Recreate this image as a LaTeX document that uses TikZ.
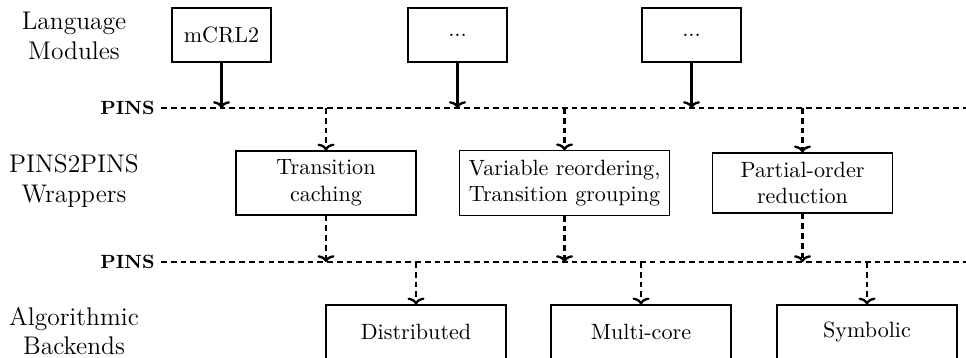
\documentclass[tikz,border=0pt]{standalone}
\usetikzlibrary{arrows.meta}
\begin{document}
\begin{tikzpicture}[x=0.4706pt,y=-0.4706pt,
  boxfont/.style={font=\fontsize{10.4}{12.5}\selectfont},
  topbox/.style={draw,boxfont,line width=0.6pt,minimum width=46.6pt,minimum height=25.4pt,inner sep=4.2pt},
  midbox/.style={draw,boxfont,line width=0.6pt,minimum width=84.7pt,inner sep=4.2pt,align=center},
  botbox/.style={draw,boxfont,line width=0.6pt,minimum width=84.7pt,minimum height=25.4pt,inner sep=4.2pt},
  layerlabel/.style={font=\large,align=center,inner sep=0pt},
  pinslabel/.style={font=\small\bfseries,anchor=east,inner sep=0pt},
  pinsline/.style={line width=1.1pt,dash pattern=on 2.7pt off 1.9pt},
  solidarrow/.style={line width=1.1pt,-{To[length=3.2pt,width=8pt]}},
  dasharrow/.style={line width=1.1pt,dash pattern=on 2.7pt off 1.9pt,-{To[length=3.2pt,width=8pt]}}]
\useasboundingbox (0,0) rectangle (966,358);
% layer labels
\node[layerlabel] (lm) at (74,36) {Language\\Modules};
\node[layerlabel] (pw) at (74,181) {PINS2PINS\\Wrappers};
\node[layerlabel] (ab) at (74,331) {Algorithmic\\Backends};
% PINS lines
\node[pinslabel] (p1) at (155,108) {PINS};
\node[pinslabel] (p2) at (155,262) {PINS};
\coordinate (L1s) at (161,108);
\coordinate (L1e) at (966,108);
\coordinate (L2s) at (161,262);
\coordinate (L2e) at (966,262);
\draw[pinsline] (L1s) -- (L1e);
\draw[pinsline] (L2s) -- (L2e);
% top boxes
\node[topbox] (m1) at (221.5,35) {mCRL2};
\node[topbox] (m2) at (457.5,35) {...};
\node[topbox] (m3) at (691.5,35) {...};
% wrappers
\node[midbox] (w1) at (326,183) {Transition\\caching};
\node[midbox] (w2) at (564.5,183) {Variable reordering,\\Transition grouping};
\node[midbox] (w3) at (802.5,183) {Partial-order\\reduction};
% backends
\node[botbox] (b1) at (416,332) {Distributed};
\node[botbox] (b2) at (641,332) {Multi-core};
\node[botbox] (b3) at (867,332) {Symbolic};
% arrows
\foreach \m in {m1,m2,m3} \draw[solidarrow] (\m.south) -- (\m |- L1s);
\foreach \w in {w1,w2,w3} {
  \draw[dasharrow] (\w |- L1s) -- (\w.north);
  \draw[dasharrow] (\w.south) -- (\w |- L2s);
}
\foreach \b in {b1,b2,b3} \draw[dasharrow] (\b |- L2s) -- (\b.north);
\end{tikzpicture}
\end{document}
